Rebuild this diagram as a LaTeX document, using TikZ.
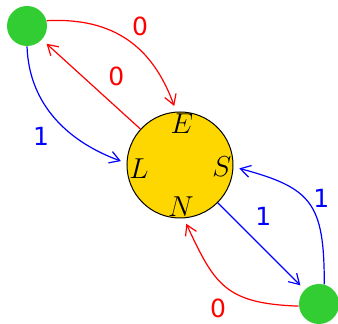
\documentclass[tikz,border=0pt]{standalone}
\usepackage{fontspec}
\newfontfamily\lblfont{DejaVu Sans}
\usetikzlibrary{arrows.meta}
\definecolor{dotgreen}{RGB}{50,205,50}
\definecolor{hubgold}{RGB}{255,215,0}

\begin{document}
\begin{tikzpicture}[
  x=0.5pt, y=-0.5pt,
  >={Straight Barb[length=5pt, width=6pt]},
  font=\fontsize{13.5}{15}\selectfont,
  dot/.style={circle, fill=dotgreen, minimum size=20pt, inner sep=0pt},
  hub/.style={circle, draw=black, line width=0.5pt, fill=hubgold,
              minimum size=53pt, inner sep=0pt},
  side/.style={inner sep=0pt},
  zero/.style={->, red, line width=0.6pt, shorten >=3pt},
  one/.style={->, blue, line width=0.6pt, shorten >=3pt},
  lbl/.style={font=\lblfont\fontsize{12.5}{14}\selectfont, text=#1},
]

% frame of the picture
\useasboundingbox (0,0) rectangle (338,324);

%--- states ---------------------------------------------------------
\node[dot] (tl) at (27,26) {};
\node[hub] (hub) at (180,165) {};
\node[dot] (br) at (319,304) {};

% letters on the hub
\node[side] (e) at (182,124) {$E$};
\node[side] (l) at (139,169) {$L$};
\node[side] (s) at (222,167) {$S$};
\node[side] (n) at (181,207) {$N$};

%--- transitions ----------------------------------------------------
\draw[zero] (tl.15) to[out=3, in=110, looseness=1.1]
      node[lbl=red, pos=.6, above=4pt] {0} (hub.94);
\draw[zero] (hub) -- node[lbl=red, pos=.4, above right] {0} (tl);
\draw[one] (tl.south) to[out=-88, in=160]
      node[lbl=blue, pos=.5, below left] {1} (hub.178);

\draw[one] (hub) -- node[lbl=blue, pos=.35, above right] {1} (br);
\draw[one] (br.75) to[out=90, in=-15, looseness=1.4]
      node[lbl=blue, pos=.55, right=1pt] {1} (hub.-2);
\draw[zero] (br.186) to[out=178, in=-65, looseness=1.3]
      node[lbl=red, pos=.42, below left=0pt] {0} (hub.-86);

\end{tikzpicture}
\end{document}
